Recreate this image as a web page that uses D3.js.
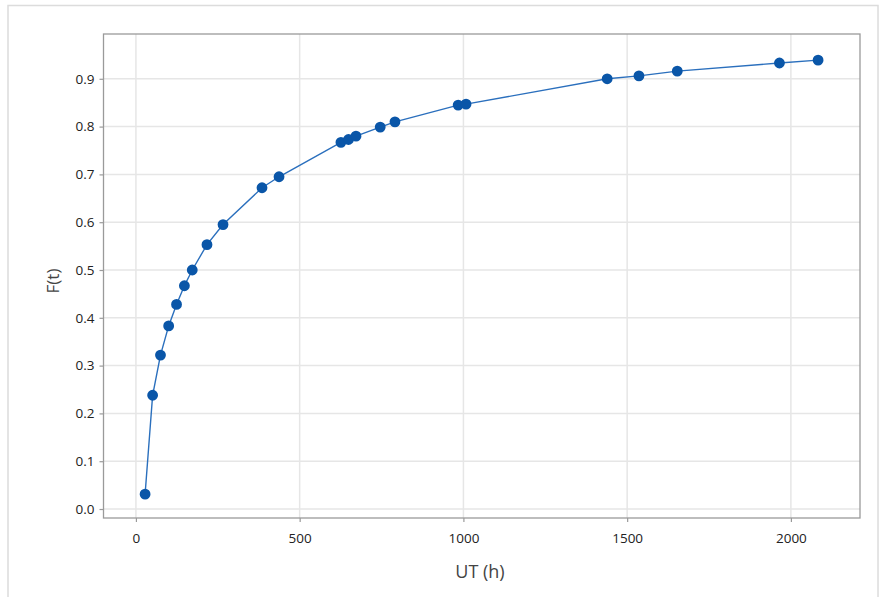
<!DOCTYPE html>
<html>
<head>
<meta charset="utf-8">
<script src="https://cdn.jsdelivr.net/npm/d3@7"></script>
<style>
  html, body { margin: 0; padding: 0; background: #fff; }
  svg { display: block; }
  text { font-family: "Open Sans", "Noto Sans", sans-serif; }
</style>
</head>
<body>
<svg id="chart" width="888" height="597"></svg>
<script>
// Unreliability F(t) versus operating time UT (h)
const ut = [28, 51, 75, 100, 124, 148, 172, 217, 266, 385, 437, 626, 649, 672, 746, 791, 984, 1008, 1439, 1536, 1653, 1965, 2083];
const ft = [0.031, 0.238, 0.322, 0.383, 0.428, 0.467, 0.500, 0.553, 0.595, 0.672, 0.695, 0.767, 0.773, 0.780, 0.799, 0.810, 0.845, 0.847, 0.900, 0.906, 0.916, 0.933, 0.939];
const xTicks = [0, 500, 1000, 1500, 2000];
const yTicks = [0.0, 0.1, 0.2, 0.3, 0.4, 0.5, 0.6, 0.7, 0.8, 0.9];

const svg = d3.select("#chart");
const box = { left: 103.5, top: 34, right: 860, bottom: 518 };

// outer frame
svg.append("rect")
  .attr("x", 8).attr("y", 5.5)
  .attr("width", 870).attr("height", 600)
  .attr("fill", "none").attr("stroke", "#dcdcdc").attr("stroke-width", 1.5);

const x = d3.scaleLinear().domain([-99, 2211]).range([box.left, box.right]);
const y = d3.scaleLinear().domain([-0.0188, 0.9937]).range([box.bottom, box.top]);

const g = svg.append("g");

// grid
g.selectAll(".gx").data(xTicks).join("line")
  .attr("x1", d => x(d)).attr("x2", d => x(d))
  .attr("y1", box.top).attr("y2", box.bottom)
  .attr("stroke", "#e6e6e6").attr("stroke-width", 1.5);
g.selectAll(".gy").data(yTicks).join("line")
  .attr("x1", box.left).attr("x2", box.right)
  .attr("y1", d => y(d)).attr("y2", d => y(d))
  .attr("stroke", "#e6e6e6").attr("stroke-width", 1.5);

// plot border
g.append("rect")
  .attr("x", box.left).attr("y", box.top)
  .attr("width", box.right - box.left).attr("height", box.bottom - box.top)
  .attr("fill", "none").attr("stroke", "#9a9a9a").attr("stroke-width", 1.3);

// axes
const xAxis = d3.axisBottom(x).tickValues(xTicks).tickSize(4).tickPadding(11).tickFormat(d3.format("d"));
const yAxis = d3.axisLeft(y).tickValues(yTicks).tickSize(4).tickPadding(5).tickFormat(d3.format(".1f"));

const gx = svg.append("g").attr("transform", `translate(0,${box.bottom})`).call(xAxis);
const gy = svg.append("g").attr("transform", `translate(${box.left},0)`).call(yAxis);
[gx, gy].forEach(a => {
  a.select(".domain").remove();
  a.selectAll(".tick line").attr("stroke", "#9a9a9a").attr("stroke-width", 1.2);
  a.selectAll(".tick text").attr("fill", "#222").style("font-size", "13.5px");
});

// axis titles
svg.append("text")
  .attr("x", 480).attr("y", 578)
  .attr("text-anchor", "middle").attr("fill", "#444").style("font-size", "18px")
  .text("UT (h)");
svg.append("text")
  .attr("transform", `translate(59,281) rotate(-90)`)
  .attr("text-anchor", "middle").attr("fill", "#444").style("font-size", "17px")
  .text("F(t)");

// connecting line and points
const pts = ut.map((u, i) => [u, ft[i]]);
svg.append("path")
  .datum(pts)
  .attr("d", d3.line().x(d => x(d[0])).y(d => y(d[1])))
  .attr("fill", "none").attr("stroke", "#2a6fbd").attr("stroke-width", 1.4);

svg.selectAll(".pt").data(pts).join("path")
  .attr("class", "pt")
  .attr("transform", d => `translate(${x(d[0])},${y(d[1])})`)
  .attr("d", d3.symbol().type(d3.symbolCircle).size(92))
  .attr("fill", "#0a56a8");
</script>
</body>
</html>
